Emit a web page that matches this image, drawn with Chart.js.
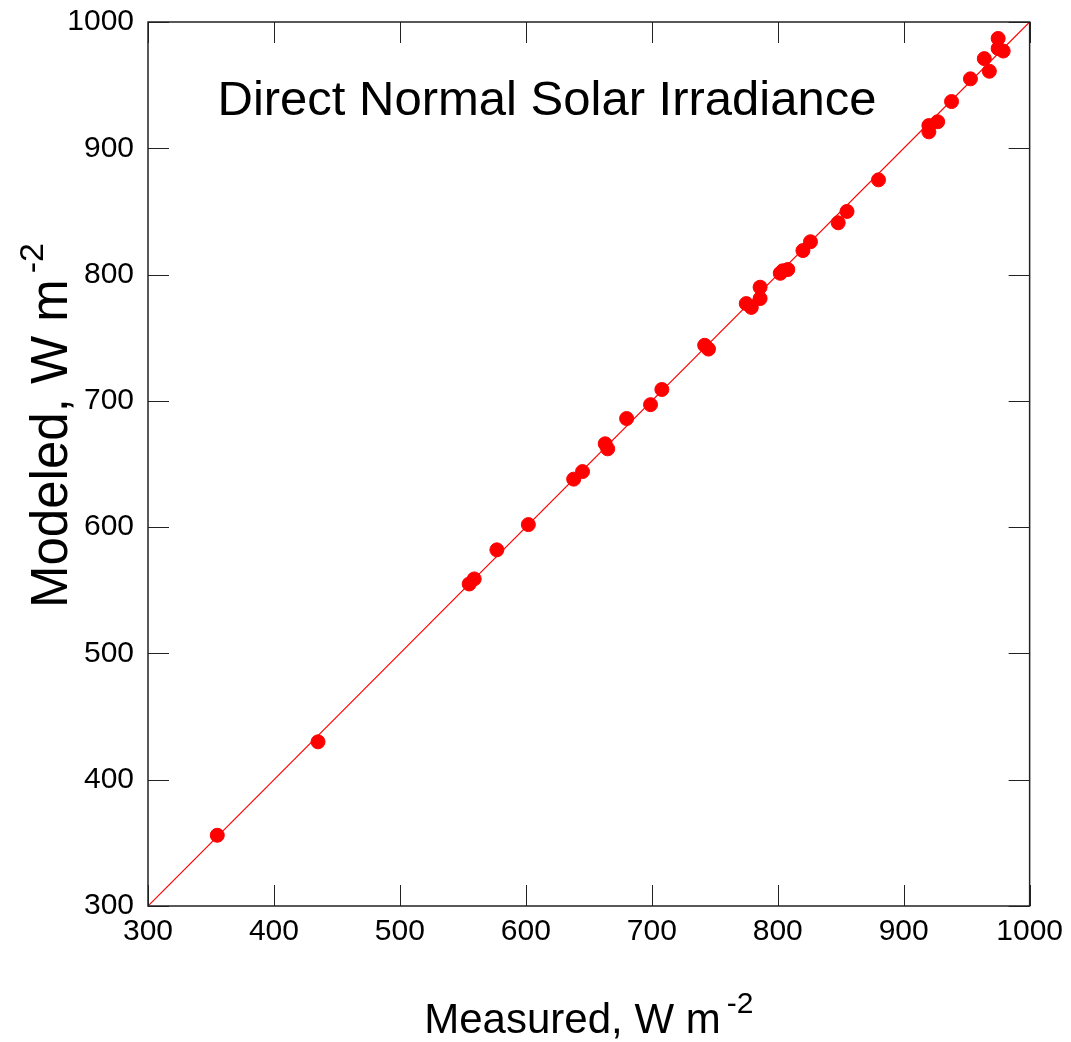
<!DOCTYPE html>
<html>
<head>
<meta charset="UTF-8">
<title>Direct Normal Solar Irradiance</title>
<script src="https://cdn.jsdelivr.net/npm/chart.js@4.4.0/dist/chart.umd.min.js"></script>
<style>
  html, body { margin: 0; padding: 0; background: #fff; }
  #wrap { width: 1071px; height: 1042px; }
</style>
</head>
<body>
<div id="wrap"><canvas id="chart" width="1071" height="1042"></canvas></div>
<script>
// measured vs modeled direct normal irradiance, W m-2
var measured = [355, 435, 555, 559, 577, 602, 638, 645, 663, 665, 680, 699, 708, 742, 745,
                775, 779, 786, 786, 802, 804, 808, 820, 826, 848, 855, 880, 920, 920, 927,
                938, 953, 964, 968, 975, 975, 979];
var modeled  = [356, 430, 555, 559, 582, 602, 638, 644, 666, 662, 686, 697, 709, 744, 741,
                777, 774, 781, 790, 801, 803, 804, 819, 826, 841, 850, 875, 913, 918, 921,
                937, 955, 971, 961, 987, 979, 977];
var oneToOne = [300, 1000];
var axisMin = 300, axisMax = 1000, tickStep = 100;

var FONT = '"Liberation Sans", Arial, Helvetica, sans-serif';

var points = measured.map(function (m, i) { return { x: m, y: modeled[i] }; });
var line = oneToOne.map(function (v) { return { x: v, y: v }; });

// inward ticks on all four sides, frame, title and axis titles with superscripts
var decor = {
  id: 'decor',
  afterDraw: function (chart) {
    var ctx = chart.ctx, a = chart.chartArea;
    var xs = chart.scales.x, ys = chart.scales.y;
    var len = 21;
    ctx.save();
    ctx.strokeStyle = '#222';
    ctx.lineWidth = 1;
    ctx.beginPath();
    xs.ticks.forEach(function (t) {
      var px = Math.round(xs.getPixelForValue(t.value)) + 0.5;
      ctx.moveTo(px, a.bottom); ctx.lineTo(px, a.bottom - len);
      ctx.moveTo(px, a.top); ctx.lineTo(px, a.top + len);
    });
    ys.ticks.forEach(function (t) {
      var py = Math.round(ys.getPixelForValue(t.value)) + 0.5;
      ctx.moveTo(a.left, py); ctx.lineTo(a.left + len, py);
      ctx.moveTo(a.right, py); ctx.lineTo(a.right - len, py);
    });
    ctx.stroke();
    ctx.lineWidth = 1.5;
    ctx.strokeRect(a.left, a.top, a.right - a.left, a.bottom - a.top);

    ctx.fillStyle = '#000';
    ctx.textBaseline = 'alphabetic';
    ctx.textAlign = 'center';
    ctx.font = '49px ' + FONT;
    ctx.fillText('Direct Normal Solar Irradiance', 547, 115);

    // x title
    var main = 'Measured, W m', sup = '-2';
    ctx.font = '42px ' + FONT;
    var w1 = ctx.measureText(main).width;
    ctx.font = '30px ' + FONT;
    var w2 = ctx.measureText(sup).width;
    var x0 = (a.left + a.right) / 2 - (w1 + w2 + 6) / 2;
    ctx.textAlign = 'left';
    ctx.font = '42px ' + FONT;
    ctx.fillText(main, x0, 1033);
    ctx.font = '30px ' + FONT;
    ctx.fillText(sup, x0 + w1 + 6, 1013);

    // y title
    main = 'Modeled, W m';
    ctx.save();
    ctx.translate(67, 608);
    ctx.rotate(-Math.PI / 2);
    ctx.font = '51px ' + FONT;
    w1 = ctx.measureText(main).width;
    ctx.fillText(main, 0, 0);
    ctx.font = '34px ' + FONT;
    ctx.fillText(sup, w1 + 6, -24);
    ctx.restore();
    ctx.restore();
  }
};

new Chart(document.getElementById('chart'), {
  type: 'scatter',
  data: {
    datasets: [{
      label: 'Measured vs modeled',
      data: points,
      backgroundColor: '#ff0000',
      borderColor: '#ff0000',
      pointRadius: 7,
      pointHoverRadius: 7,
      order: 1
    }, {
      type: 'line',
      label: '1:1',
      data: line,
      borderColor: '#ff0000',
      borderWidth: 1.2,
      pointRadius: 0,
      fill: false,
      order: 2
    }]
  },
  options: {
    responsive: false,
    animation: false,
    layout: { padding: { left: 40, right: 8, top: 0, bottom: 0 } },
    plugins: {
      legend: { display: false },
      tooltip: { enabled: false }
    },
    scales: {
      x: {
        type: 'linear', min: axisMin, max: axisMax,
        grid: { display: false, drawTicks: false },
        border: { display: false },
        ticks: {
          stepSize: tickStep, padding: 8, color: '#000', font: { family: FONT, size: 30 },
          callback: function (v) { return String(v); }
        },
        afterFit: function (s) { s.height = 136; }
      },
      y: {
        type: 'linear', min: axisMin, max: axisMax,
        grid: { display: false, drawTicks: false },
        border: { display: false },
        ticks: {
          stepSize: tickStep, padding: 14, color: '#000', font: { family: FONT, size: 30 },
          callback: function (v) { return String(v); }
        },
        afterFit: function (s) { s.width = 108; s.paddingTop = 22; }
      }
    }
  },
  plugins: [decor]
});
</script>
</body>
</html>
